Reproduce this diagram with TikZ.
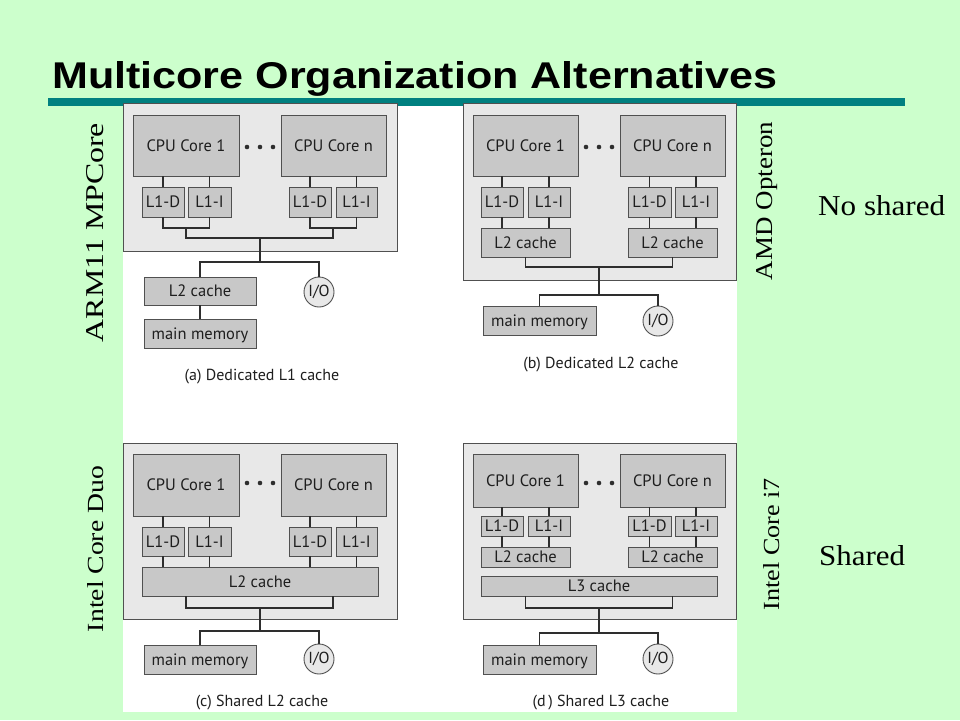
\documentclass[tikz,border=0pt]{standalone}
\usepackage{fontspec}
\setmainfont{Liberation Serif}
\newfontfamily\boxfont{PT Sans}
\newfontfamily\titlefont{Liberation Sans}
\definecolor{bggreen}{HTML}{CCFFCC}
\definecolor{teal}{HTML}{008080}
\definecolor{framefill}{HTML}{E8E8E8}
\definecolor{boxfill}{HTML}{C8C8C8}
\definecolor{linec}{HTML}{505050}
\definecolor{wirec}{HTML}{2E2E2E}
\definecolor{txt}{HTML}{1E1E1E}
\tikzset{
  frame/.style={draw=linec, fill=framefill, line width=0.9pt, inner sep=0pt, outer sep=0pt},
  box/.style={draw=linec, fill=boxfill, line width=0.9pt, inner sep=0pt, outer sep=0pt,
    font=\boxfont\fontsize{16.5}{18}\selectfont, text=txt, text height=11.5pt, text depth=0pt},
  wire/.style={draw=wirec, line width=1.7pt, line join=miter},
  iocirc/.style={circle, draw=linec, fill=framefill, line width=0.9pt, minimum size=30pt,
    inner sep=0pt, outer sep=0pt, font=\boxfont\fontsize{16}{17}\selectfont, text=txt},
  capt/.style={inner sep=0pt, font=\boxfont\fontsize{16}{18}\selectfont, text=txt},
  dotn/.style={circle, fill=wirec, minimum size=4.6pt, inner sep=0pt},
  side/.style={inner sep=0pt, text=black}
}
\newcommand\mkbox[6]{\node[box, minimum width={#4-#2}, minimum height={#5-#3}] (#1) at ({(#2+#4)/2},{(#3+#5)/2}) {#6};}
\newcommand\mkframe[5]{\node[frame, minimum width={#4-#2}, minimum height={#5-#3}] (#1) at ({(#2+#4)/2},{(#3+#5)/2}) {};}
\begin{document}
\begin{tikzpicture}[x=1pt,y=-1pt]
\fill[bggreen] (0,0) rectangle (960,720);
\useasboundingbox (0,0) rectangle (960,720);
\fill[white] (123,100) rectangle (737,712);
\fill[teal] (48,98) rectangle (905,106);
\node[anchor=base west, inner sep=0pt] (title) at (52,88)
  {\resizebox{725pt}{27pt}{\titlefont\bfseries Multicore Organization Alternatives}};

% ---------- (a) ----------
\mkframe{a-fr}{123}{103}{397}{251}
\mkbox{a-c1}{133}{115}{239}{176}{CPU Core 1}
\mkbox{a-cn}{281}{115}{386}{176}{CPU Core n}
\node[dotn] (a-d1) at (247,147) {};
\node[dotn] (a-d2) at (260,147) {};
\node[dotn] (a-d3) at (273,147) {};
\mkbox{a-1d}{142}{187}{184}{217}{L1-D}
\mkbox{a-1i}{188}{187}{231}{217}{L1-I}
\mkbox{a-nd}{289}{187}{331}{217}{L1-D}
\mkbox{a-ni}{336}{187}{377}{217}{L1-I}
\mkbox{a-l2}{144}{277}{256}{305}{L2 cache}
\mkbox{a-mm}{144}{319}{256}{348}{main memory}
\node[iocirc] (a-io) at (319,292) {I/O};
\coordinate (a-j1) at (186,228);
\coordinate (a-j2) at (333,228);
\coordinate (a-j3) at (260,238);
\coordinate (a-j4) at (260,262);
\draw[wire] (a-1d.north) -- (a-1d.north |- a-c1.south);
\draw[wire] (a-1i.north) -- (a-1i.north |- a-c1.south);
\draw[wire] (a-nd.north) -- (a-nd.north |- a-cn.south);
\draw[wire] (a-ni.north) -- (a-ni.north |- a-cn.south);
\draw[wire] (a-1d.south) |- (a-j1) -| (a-1i.south);
\draw[wire] (a-nd.south) |- (a-j2) -| (a-ni.south);
\draw[wire] (a-j1) |- (a-j3) -| (a-j2);
\draw[wire] (a-j3) -- (a-j4);
\draw[wire] (a-l2.north) |- (a-j4) -| (a-io.north);
\draw[wire] (a-l2.south) -- (a-mm.north);
\node[capt] (a-cap) at (262,377) {(a) Dedicated L1 cache};

% ---------- (b) ----------
\mkframe{b-fr}{463}{103}{736}{280}
\mkbox{b-c1}{473}{115}{578}{176}{CPU Core 1}
\mkbox{b-cn}{620}{115}{725}{176}{CPU Core n}
\node[dotn] (b-d1) at (586,147) {};
\node[dotn] (b-d2) at (599,147) {};
\node[dotn] (b-d3) at (612,147) {};
\mkbox{b-1d}{481}{187}{523}{217}{L1-D}
\mkbox{b-1i}{528}{187}{570}{217}{L1-I}
\mkbox{b-nd}{628}{187}{671}{217}{L1-D}
\mkbox{b-ni}{675}{187}{717}{217}{L1-I}
\mkbox{b-l2a}{481}{228}{570}{257}{L2 cache}
\mkbox{b-l2b}{628}{228}{717}{257}{L2 cache}
\mkbox{b-mm}{483}{306}{596}{335}{main memory}
\node[iocirc] (b-io) at (658,321) {I/O};
\coordinate (b-j1) at (599,267);
\coordinate (b-j2) at (599,295);
\draw[wire] (b-1d.north) -- (b-1d.north |- b-c1.south);
\draw[wire] (b-1i.north) -- (b-1i.north |- b-c1.south);
\draw[wire] (b-nd.north) -- (b-nd.north |- b-cn.south);
\draw[wire] (b-ni.north) -- (b-ni.north |- b-cn.south);
\draw[wire] (b-1d.south) -- (b-1d.south |- b-l2a.north);
\draw[wire] (b-1i.south) -- (b-1i.south |- b-l2a.north);
\draw[wire] (b-nd.south) -- (b-nd.south |- b-l2b.north);
\draw[wire] (b-ni.south) -- (b-ni.south |- b-l2b.north);
\draw[wire] (b-l2a.south) |- (b-j1) -| (b-l2b.south);
\draw[wire] (b-j1) -- (b-j2);
\draw[wire] (b-mm.north) |- (b-j2) -| (b-io.north);
\node[capt] (b-cap) at (601,365) {(b) Dedicated L2 cache};

% ---------- (c) ----------
\mkframe{c-fr}{123}{443}{397}{619}
\mkbox{c-c1}{133}{454}{239}{516}{CPU Core 1}
\mkbox{c-cn}{281}{454}{386}{516}{CPU Core n}
\node[dotn] (c-d1) at (247,483) {};
\node[dotn] (c-d2) at (260,483) {};
\node[dotn] (c-d3) at (273,483) {};
\mkbox{c-1d}{142}{527}{184}{556}{L1-D}
\mkbox{c-1i}{188}{527}{231}{556}{L1-I}
\mkbox{c-nd}{289}{527}{331}{556}{L1-D}
\mkbox{c-ni}{336}{527}{377}{556}{L1-I}
\mkbox{c-l2}{142}{567}{378}{596}{L2 cache}
\mkbox{c-mm}{144}{645}{256}{674}{main memory}
\node[iocirc] (c-io) at (319,659) {I/O};
\coordinate (c-a) at (186,596);
\coordinate (c-b) at (333,596);
\coordinate (c-j1) at (260,608);
\coordinate (c-j2) at (260,631);
\draw[wire] (c-1d.north) -- (c-1d.north |- c-c1.south);
\draw[wire] (c-1i.north) -- (c-1i.north |- c-c1.south);
\draw[wire] (c-nd.north) -- (c-nd.north |- c-cn.south);
\draw[wire] (c-ni.north) -- (c-ni.north |- c-cn.south);
\draw[wire] (c-1d.south) -- (c-1d.south |- c-l2.north);
\draw[wire] (c-1i.south) -- (c-1i.south |- c-l2.north);
\draw[wire] (c-nd.south) -- (c-nd.south |- c-l2.north);
\draw[wire] (c-ni.south) -- (c-ni.south |- c-l2.north);
\draw[wire] (c-a) |- (c-j1) -| (c-b);
\draw[wire] (c-j1) -- (c-j2);
\draw[wire] (c-mm.north) |- (c-j2) -| (c-io.north);
\node[capt] (c-cap) at (262,703) {(c) Shared L2 cache};

% ---------- (d) ----------
\mkframe{d-fr}{463}{443}{736}{619}
\mkbox{d-c1}{473}{454}{578}{507}{CPU Core 1}
\mkbox{d-cn}{620}{454}{725}{507}{CPU Core n}
\node[dotn] (d-d1) at (586,483) {};
\node[dotn] (d-d2) at (599,483) {};
\node[dotn] (d-d3) at (612,483) {};
\mkbox{d-1d}{481}{516}{523}{536}{L1-D}
\mkbox{d-1i}{528}{516}{570}{536}{L1-I}
\mkbox{d-nd}{628}{516}{671}{536}{L1-D}
\mkbox{d-ni}{675}{516}{717}{536}{L1-I}
\mkbox{d-l2a}{481}{547}{570}{567}{L2 cache}
\mkbox{d-l2b}{628}{547}{717}{567}{L2 cache}
\mkbox{d-l3}{481}{576}{717}{596}{L3 cache}
\mkbox{d-mm}{483}{645}{596}{674}{main memory}
\node[iocirc] (d-io) at (658,659) {I/O};
\coordinate (d-a) at (525.5,596);
\coordinate (d-b) at (672.5,596);
\coordinate (d-j1) at (599,608);
\coordinate (d-j2) at (599,633);
\draw[wire] (d-1d.north) -- (d-1d.north |- d-c1.south);
\draw[wire] (d-1i.north) -- (d-1i.north |- d-c1.south);
\draw[wire] (d-nd.north) -- (d-nd.north |- d-cn.south);
\draw[wire] (d-ni.north) -- (d-ni.north |- d-cn.south);
\draw[wire] (d-1d.south) -- (d-1d.south |- d-l2a.north);
\draw[wire] (d-1i.south) -- (d-1i.south |- d-l2a.north);
\draw[wire] (d-nd.south) -- (d-nd.south |- d-l2b.north);
\draw[wire] (d-ni.south) -- (d-ni.south |- d-l2b.north);
\draw[wire] (d-a) |- (d-j1) -| (d-b);
\draw[wire] (d-j1) -- (d-j2);
\draw[wire] (d-mm.north) |- (d-j2) -| (d-io.north);
\node[capt] (d-cap) at (601,703) {(d\,) Shared L3 cache};

% ---------- side labels ----------
\node[side, rotate=90, anchor=base] (arm) at (103,232.5) {\resizebox{219pt}{17pt}{ARM11 MPCore}};
\node[side, rotate=90, anchor=base] (amd) at (772,201) {\resizebox{158pt}{16pt}{AMD Opteron}};
\node[side, rotate=90, anchor=base] (duo) at (103,549) {\resizebox{166pt}{16pt}{Intel Core Duo}};
\node[side, rotate=90, anchor=base] (i7) at (779,544) {\resizebox{132pt}{16pt}{Intel Core i7}};
\node[side, anchor=base west] (noshared) at (818,215) {\resizebox{127pt}{20pt}{No shared}};
\node[side, anchor=base west] (shared) at (819,565) {\resizebox{86pt}{20pt}{Shared}};
\end{tikzpicture}
\end{document}
